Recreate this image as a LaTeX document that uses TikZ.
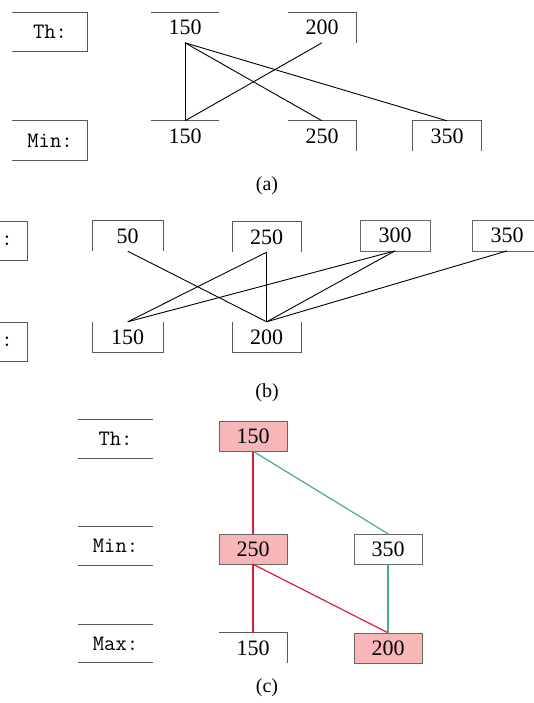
\documentclass[tikz,border=0pt]{standalone}
\usepackage{fontspec}
\setmainfont{Liberation Serif}
\definecolor{hitpink}{RGB}{247,182,184}
\definecolor{pathred}{RGB}{215,30,60}
\definecolor{pathgreen}{RGB}{70,175,125}

\begin{document}
\begin{tikzpicture}[
    x=1pt, y=-1pt,
    numbox/.style={rectangle, minimum width=68pt, minimum height=30pt, inner sep=0pt, font=\fontsize{22}{24}\selectfont},
    lblbox/.style={rectangle, minimum width=75pt, minimum height=39pt, inner sep=0pt, font=\ttfamily\fontsize{22}{24}\selectfont},
    hitbox/.style={numbox, draw=black!60, fill=hitpink},
    plainbox/.style={numbox, draw=black!60},
    rim/.style={draw=black!65, line width=0.8pt},
    link/.style={line width=0.9pt},
    tint/.style={line width=1.2pt, draw=#1},
    caption/.style={font=\fontsize{20}{22}\selectfont}
]
    \useasboundingbox (0,0) rectangle (534,703);

    % (a)
    \node[lblbox] (thA) at (50,32) {Th:};
    \node[lblbox] (minA) at (50,140.5) {Min:};
    \node[numbox] (a150t) at (185,27.6) {150};
    \node[numbox] (a200t) at (322,27.6) {200};
    \node[numbox] (a150b) at (185,136) {150};
    \node[numbox] (a250b) at (322,136) {250};
    \node[numbox] (a350b) at (447,136) {350};

    \draw[rim] (thA.north west) -- (thA.north east) -- (thA.south east) -- (thA.south west);
    \draw[rim] (minA.north west) -- (minA.north east) -- (minA.south east) -- (minA.south west);
    \draw[rim] (a150t.north west) -- (a150t.north east);
    \draw[rim] (a200t.north west) -- (a200t.north east) -- (a200t.south east);
    \draw[rim] (a150b.north west) -- (a150b.north east);
    \draw[rim] (a250b.north west) -- (a250b.north east) -- (a250b.south east);
    \draw[rim] (a350b.south west) -- (a350b.north west) -- (a350b.north east) -- (a350b.south east);

    \draw[link] (a150t.south) -- (a150b.north);
    \draw[link] (a150t.south) -- (a250b.north);
    \draw[link] (a150t.south) -- (a350b.north);
    \draw[link] (a200t.south) -- (a150b.north);

    \node[caption] (capA) at (267,186) {(a)};

    % (b)
    \node[lblbox, minimum width=40pt] (thB) at (7,241) {:};
    \node[lblbox, minimum width=40pt] (minB) at (7,342) {:};
    \node[numbox, minimum width=70pt] (b50) at (127.7,236) {50};
    \node[numbox, minimum width=69pt] (b250) at (266.7,237) {250};
    \node[plainbox, minimum width=70pt] (b300) at (395,235.7) {300};
    \node[plainbox, minimum width=70pt] (b350) at (507,235.7) {350};
    \node[numbox, minimum width=70pt] (b150) at (127.7,337) {150};
    \node[numbox, minimum width=69pt] (b200) at (266.7,337) {200};

    \draw[rim] (thB.north west) -- (thB.north east) -- (thB.south east) -- (thB.south west);
    \draw[rim] (minB.north west) -- (minB.north east) -- (minB.south east) -- (minB.south west);
    \draw[rim] (b50.south west) -- (b50.north west) -- (b50.north east) -- (b50.south east);
    \draw[rim] (b250.south west) -- (b250.north west) -- (b250.north east) -- (b250.south east);
    \draw[rim] (b150.north west) -- (b150.south west) -- (b150.south east) -- (b150.north east);
    \draw[rim] (b200.north west) -- (b200.south west) -- (b200.south east) -- (b200.north east);

    \draw[link] (b50.south) -- (b200.north);
    \draw[link] (b250.south) -- (b150.north);
    \draw[link] (b250.south) -- (b200.north);
    \draw[link] (b300.south) -- (b150.north);
    \draw[link] (b300.south) -- (b200.north);
    \draw[link] (b350.south) -- (b200.north);

    \node[caption] (capB) at (267,393) {(b)};

    % (c)
    \node[lblbox, minimum height=38pt] (thC) at (115.5,439) {Th:};
    \node[lblbox, minimum height=38pt] (minC) at (115.5,546) {Min:};
    \node[lblbox, minimum height=38pt] (maxC) at (115.5,643.5) {Max:};
    \foreach \n in {thC,minC,maxC} {
        \draw[rim] (\n.north west) -- (\n.north east);
        \draw[rim] (\n.south west) -- (\n.south east);
    }
    \node[hitbox] (c150t) at (253,436) {150};
    \node[hitbox] (c250) at (253,549) {250};
    \node[plainbox] (c350) at (388,549) {350};
    \node[numbox] (c150b) at (253,648) {150};
    \node[hitbox] (c200) at (388,648) {200};
    \draw[rim] (c150b.north west) -- (c150b.north east) -- (c150b.south east);

    \draw[tint=pathred] (c150t.south) -- (c250.north);
    \draw[tint=pathgreen] (c150t.south) -- (c350.north);
    \draw[tint=pathred] (c250.south) -- (c150b.north);
    \draw[tint=pathred] (c250.south) -- (c200.north);
    \draw[tint=pathgreen] (c350.south) -- (c200.north);

    \node[caption] (capC) at (267,688) {(c)};
\end{tikzpicture}
\end{document}
